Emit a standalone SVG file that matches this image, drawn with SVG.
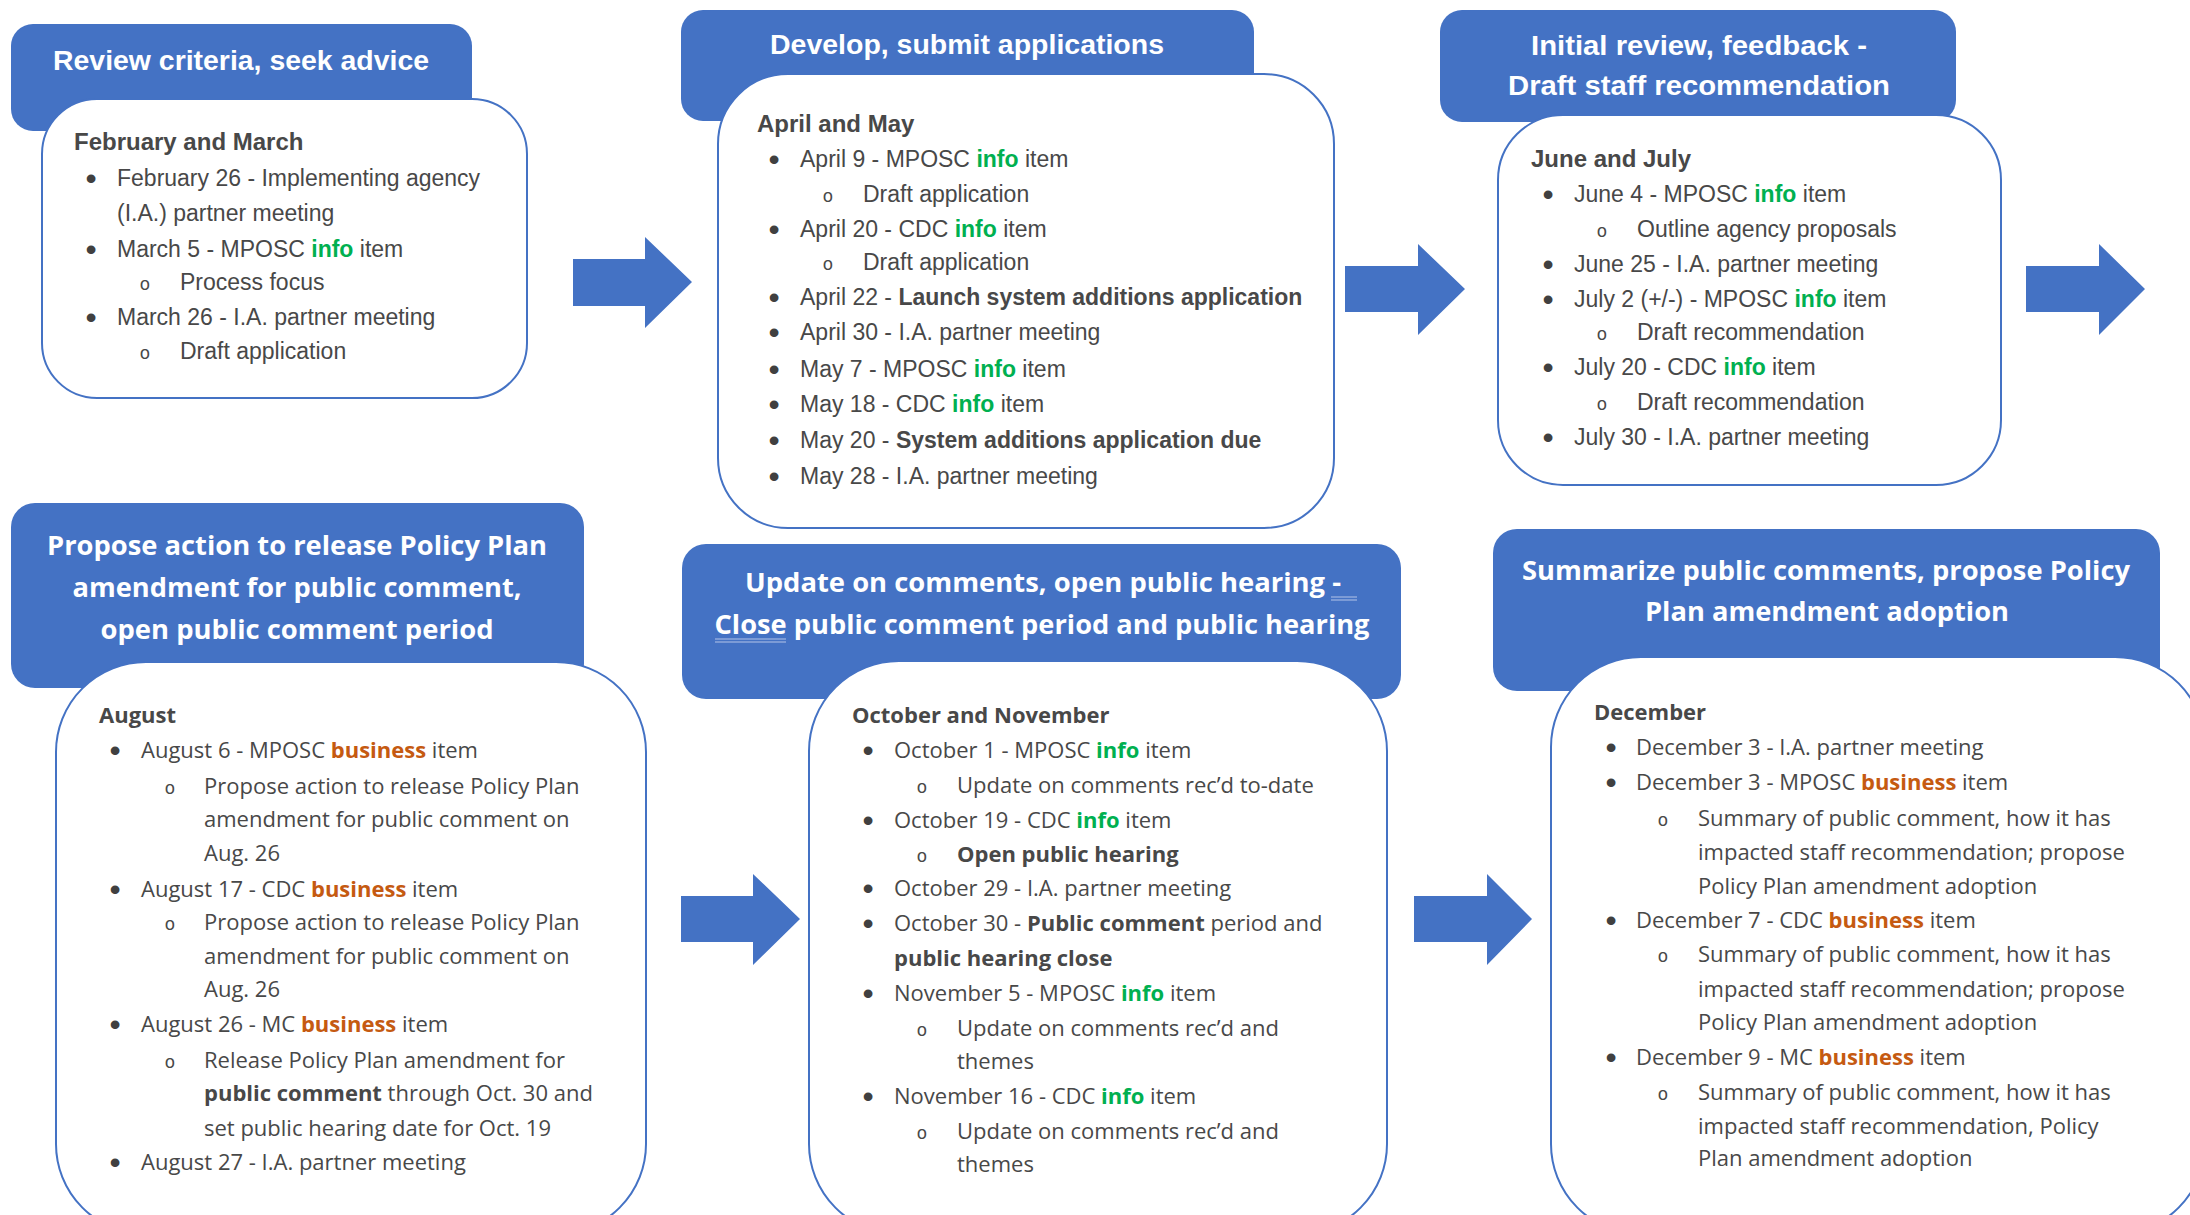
<svg xmlns="http://www.w3.org/2000/svg" width="2190" height="1215" viewBox="0 0 2190 1215">
<style>
.hdr{fill:#4472C4}
.body{fill:#fff;stroke:#4472C4;stroke-width:2}
.ht{font-family:"Liberation Sans",Arial,sans-serif;font-weight:bold;fill:#fff;font-size:28px;text-anchor:middle}
.ht2{font-family:"Open Sans","Liberation Sans",sans-serif;font-weight:bold;fill:#fff;font-size:27px;text-anchor:middle}
.t{font-family:"Liberation Sans",Arial,sans-serif;font-size:23px;fill:#484848}
.t2{font-family:"Open Sans","Liberation Sans",sans-serif;font-size:22px;fill:#484848}
.h{font-weight:bold;font-size:24px}
.b{font-weight:bold}
.info{fill:#00B050;font-weight:bold}
.biz{fill:#C55A11;font-weight:bold}
.bu{font-family:"Liberation Sans",Arial,sans-serif;font-size:32px;fill:#404040;text-anchor:middle}
.o{font-family:"Liberation Mono","Courier New",monospace;font-size:18px;fill:#484848;text-anchor:middle}
.arrow{fill:#4472C4}
.ul{stroke:#8FAADC;stroke-width:1.5}
</style>

<g id="node-review">
<rect class="hdr" x="11" y="24" width="461" height="107" rx="22"/>
<text class="ht" x="241" y="70" textLength="376" lengthAdjust="spacingAndGlyphs">Review criteria, seek advice</text>
<rect class="body" x="42" y="99" width="485" height="299" rx="55"/>
<text class="t h" x="74" y="150">February and March</text>
<text class="bu" x="91" y="189">•</text><text class="t" x="117" y="186">February 26 - Implementing agency</text>
<text class="t" x="117" y="221">(I.A.) partner meeting</text>
<text class="bu" x="91" y="260">•</text><text class="t" x="117" y="257">March 5 - MPOSC <tspan class="info">info</tspan> item</text>
<text class="o" x="145" y="290">o</text><text class="t" x="180" y="290">Process focus</text>
<text class="bu" x="91" y="328">•</text><text class="t" x="117" y="325">March 26 - I.A. partner meeting</text>
<text class="o" x="145" y="359">o</text><text class="t" x="180" y="359">Draft application</text>
</g>

<g id="node-develop">
<rect class="hdr" x="681" y="10" width="573" height="111" rx="22"/>
<text class="ht" x="967" y="54" textLength="394" lengthAdjust="spacingAndGlyphs">Develop, submit applications</text>
<rect class="body" x="718" y="74" width="616" height="454" rx="70"/>
<text class="t h" x="757" y="132">April and May</text>
<text class="bu" x="774" y="170">•</text><text class="t" x="800" y="167">April 9 - MPOSC <tspan class="info">info</tspan> item</text>
<text class="o" x="828" y="202">o</text><text class="t" x="863" y="202">Draft application</text>
<text class="bu" x="774" y="240">•</text><text class="t" x="800" y="237">April 20 - CDC <tspan class="info">info</tspan> item</text>
<text class="o" x="828" y="270">o</text><text class="t" x="863" y="270">Draft application</text>
<text class="bu" x="774" y="308">•</text><text class="t" x="800" y="305">April 22 - <tspan class="b">Launch system additions application</tspan></text>
<text class="bu" x="774" y="343">•</text><text class="t" x="800" y="340">April 30 - I.A. partner meeting</text>
<text class="bu" x="774" y="380">•</text><text class="t" x="800" y="377">May 7 - MPOSC <tspan class="info">info</tspan> item</text>
<text class="bu" x="774" y="415">•</text><text class="t" x="800" y="412">May 18 - CDC <tspan class="info">info</tspan> item</text>
<text class="bu" x="774" y="451">•</text><text class="t" x="800" y="448">May 20 - <tspan class="b">System additions application due</tspan></text>
<text class="bu" x="774" y="487">•</text><text class="t" x="800" y="484">May 28 - I.A. partner meeting</text>
</g>

<g id="node-initial-review">
<rect class="hdr" x="1440" y="10" width="516" height="112" rx="22"/>
<text class="ht" x="1699" y="55" textLength="336" lengthAdjust="spacingAndGlyphs">Initial review, feedback -</text>
<text class="ht" x="1699" y="95" textLength="382" lengthAdjust="spacingAndGlyphs">Draft staff recommendation</text>
<rect class="body" x="1498" y="115" width="503" height="370" rx="65"/>
<text class="t h" x="1531" y="167">June and July</text>
<text class="bu" x="1548" y="205">•</text><text class="t" x="1574" y="202">June 4 - MPOSC <tspan class="info">info</tspan> item</text>
<text class="o" x="1602" y="237">o</text><text class="t" x="1637" y="237">Outline agency proposals</text>
<text class="bu" x="1548" y="275">•</text><text class="t" x="1574" y="272">June 25 - I.A. partner meeting</text>
<text class="bu" x="1548" y="310">•</text><text class="t" x="1574" y="307">July 2 (+/-) - MPOSC <tspan class="info">info</tspan> item</text>
<text class="o" x="1602" y="340">o</text><text class="t" x="1637" y="340">Draft recommendation</text>
<text class="bu" x="1548" y="378">•</text><text class="t" x="1574" y="375">July 20 - CDC <tspan class="info">info</tspan> item</text>
<text class="o" x="1602" y="410">o</text><text class="t" x="1637" y="410">Draft recommendation</text>
<text class="bu" x="1548" y="448">•</text><text class="t" x="1574" y="445">July 30 - I.A. partner meeting</text>
</g>

<g id="node-propose">
<rect class="hdr" x="11" y="503" width="573" height="185" rx="24"/>
<text class="ht2" x="297" y="555" textLength="500" lengthAdjust="spacingAndGlyphs">Propose action to release Policy Plan</text>
<text class="ht2" x="297" y="597" textLength="449" lengthAdjust="spacingAndGlyphs">amendment for public comment,</text>
<text class="ht2" x="297" y="639" textLength="393" lengthAdjust="spacingAndGlyphs">open public comment period</text>
<rect class="body" x="56" y="662" width="590" height="572" rx="90"/>
<text class="t2 b" x="99" y="723">August</text>
<text class="bu" x="115" y="761">•</text><text class="t2" x="141" y="758">August 6 - MPOSC <tspan class="biz">business</tspan> item</text>
<text class="o" x="170" y="794">o</text><text class="t2" x="204" y="794">Propose action to release Policy Plan</text>
<text class="t2" x="204" y="827">amendment for public comment on</text>
<text class="t2" x="204" y="861">Aug. 26</text>
<text class="bu" x="115" y="900">•</text><text class="t2" x="141" y="897">August 17 - CDC <tspan class="biz">business</tspan> item</text>
<text class="o" x="170" y="930">o</text><text class="t2" x="204" y="930">Propose action to release Policy Plan</text>
<text class="t2" x="204" y="964">amendment for public comment on</text>
<text class="t2" x="204" y="997">Aug. 26</text>
<text class="bu" x="115" y="1035">•</text><text class="t2" x="141" y="1032">August 26 - MC <tspan class="biz">business</tspan> item</text>
<text class="o" x="170" y="1068">o</text><text class="t2" x="204" y="1068">Release Policy Plan amendment for</text>
<text class="t2" x="204" y="1101"><tspan class="b">public comment</tspan> through Oct. 30 and</text>
<text class="t2" x="204" y="1136">set public hearing date for Oct. 19</text>
<text class="bu" x="115" y="1173">•</text><text class="t2" x="141" y="1170">August 27 - I.A. partner meeting</text>
</g>

<g id="node-update">
<rect class="hdr" x="682" y="544" width="719" height="155" rx="24"/>
<text class="ht2" x="1043" y="592" textLength="596" lengthAdjust="spacingAndGlyphs">Update on comments, open public hearing -</text>
<text class="ht2" x="1042" y="634" textLength="655" lengthAdjust="spacingAndGlyphs">Close public comment period and public hearing</text>
<line class="ul" x1="1331" y1="597" x2="1357" y2="597"/><line class="ul" x1="1331" y1="600" x2="1357" y2="600"/>
<line class="ul" x1="715" y1="639" x2="786" y2="639"/><line class="ul" x1="715" y1="642" x2="786" y2="642"/>
<rect class="body" x="809" y="661" width="578" height="573" rx="90"/>
<text class="t2 b" x="852" y="723">October and November</text>
<text class="bu" x="868" y="761">•</text><text class="t2" x="894" y="758">October 1 - MPOSC <tspan class="info">info</tspan> item</text>
<text class="o" x="922" y="793">o</text><text class="t2" x="957" y="793">Update on comments rec’d to-date</text>
<text class="bu" x="868" y="831">•</text><text class="t2" x="894" y="828">October 19 - CDC <tspan class="info">info</tspan> item</text>
<text class="o" x="922" y="862">o</text><text class="t2 b" x="957" y="862">Open public hearing</text>
<text class="bu" x="868" y="899">•</text><text class="t2" x="894" y="896">October 29 - I.A. partner meeting</text>
<text class="bu" x="868" y="934">•</text><text class="t2" x="894" y="931">October 30 - <tspan class="b">Public comment</tspan> period and</text>
<text class="t2 b" x="894" y="966">public hearing close</text>
<text class="bu" x="868" y="1004">•</text><text class="t2" x="894" y="1001">November 5 - MPOSC <tspan class="info">info</tspan> item</text>
<text class="o" x="922" y="1036">o</text><text class="t2" x="957" y="1036">Update on comments rec’d and</text>
<text class="t2" x="957" y="1069">themes</text>
<text class="bu" x="868" y="1107">•</text><text class="t2" x="894" y="1104">November 16 - CDC <tspan class="info">info</tspan> item</text>
<text class="o" x="922" y="1139">o</text><text class="t2" x="957" y="1139">Update on comments rec’d and</text>
<text class="t2" x="957" y="1172">themes</text>
</g>

<g id="node-summarize">
<rect class="hdr" x="1493" y="529" width="667" height="162" rx="24"/>
<text class="ht2" x="1826" y="580" textLength="608" lengthAdjust="spacingAndGlyphs">Summarize public comments, propose Policy</text>
<text class="ht2" x="1827" y="621" textLength="364" lengthAdjust="spacingAndGlyphs">Plan amendment adoption</text>
<rect class="body" x="1551" y="657" width="654" height="577" rx="90"/>
<text class="t2 b" x="1594" y="720">December</text>
<text class="bu" x="1611" y="758">•</text><text class="t2" x="1636" y="755">December 3 - I.A. partner meeting</text>
<text class="bu" x="1611" y="793">•</text><text class="t2" x="1636" y="790">December 3 - MPOSC <tspan class="biz">business</tspan> item</text>
<text class="o" x="1663" y="826">o</text><text class="t2" x="1698" y="826">Summary of public comment, how it has</text>
<text class="t2" x="1698" y="860">impacted staff recommendation; propose</text>
<text class="t2" x="1698" y="894">Policy Plan amendment adoption</text>
<text class="bu" x="1611" y="931">•</text><text class="t2" x="1636" y="928">December 7 - CDC <tspan class="biz">business</tspan> item</text>
<text class="o" x="1663" y="962">o</text><text class="t2" x="1698" y="962">Summary of public comment, how it has</text>
<text class="t2" x="1698" y="997">impacted staff recommendation; propose</text>
<text class="t2" x="1698" y="1030">Policy Plan amendment adoption</text>
<text class="bu" x="1611" y="1068">•</text><text class="t2" x="1636" y="1065">December 9 - MC <tspan class="biz">business</tspan> item</text>
<text class="o" x="1663" y="1100">o</text><text class="t2" x="1698" y="1100">Summary of public comment, how it has</text>
<text class="t2" x="1698" y="1134">impacted staff recommendation, Policy</text>
<text class="t2" x="1698" y="1166">Plan amendment adoption</text>
</g>

<g id="connectors">
<polygon class="arrow" points="573,259 645,259 645,237 692,282 645,328 645,306 573,306"/>
<polygon class="arrow" points="1345,266 1418,266 1418,244 1465,289 1418,335 1418,312 1345,312"/>
<polygon class="arrow" points="2026,266 2099,266 2099,244 2145,289 2099,335 2099,312 2026,312"/>
<polygon class="arrow" points="681,896 753,896 753,874 800,919 753,965 753,942 681,942"/>
<polygon class="arrow" points="1414,896 1487,896 1487,874 1532,919 1487,965 1487,942 1414,942"/>
</g>
</svg>
